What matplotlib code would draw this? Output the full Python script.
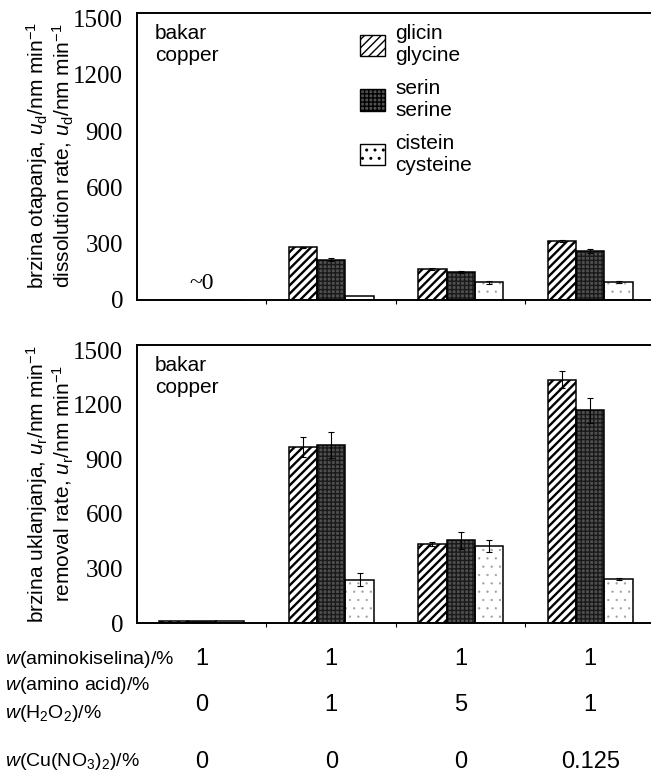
# Gráfica de barras: velocidad de disolución y de remoción del cobre
import matplotlib
matplotlib.use('Agg')
import matplotlib.pyplot as plt
import matplotlib.transforms as mtransforms
from matplotlib.patches import Patch
import numpy as np

# Datos
grupos = [1, 2, 3, 4]

# Panel superior: brzina otapanja (dissolution rate)
otapanje_glicin = [0, 280, 165, 315]
otapanje_serin = [0, 215, 150, 260]
otapanje_cistein = [0, 20, 95, 95]
otapanje_err_glicin = [0, 5, 4, 6]
otapanje_err_serin = [0, 8, 5, 10]
otapanje_err_cistein = [0, 0, 8, 5]

# Panel inferior: brzina uklanjanja (removal rate)
uklanjanje_glicin = [12, 970, 435, 1340]
uklanjanje_serin = [10, 980, 455, 1170]
uklanjanje_cistein = [10, 238, 423, 240]
uklanjanje_err_glicin = [0, 56, 12, 45]
uklanjanje_err_serin = [0, 70, 45, 67]
uklanjanje_err_cistein = [0, 36, 33, 5]

# Tabla de condiciones debajo de la gráfica
w_aminokiselina = ['1', '1', '1', '1']
w_h2o2 = ['0', '1', '5', '1']
w_cu = ['0', '0', '0', '0.125']

nombres = ['glicin\nglycine', 'serin\nserine', 'cistein\ncysteine']

# Estilos de cada serie: (relleno, trama, color de trama, grosor de trama)
estilos = [
    ('white', '////', 'black', 1.7),
    ('#505050', '++++', '#1a1a1a', 1.0),
    ('white', '..', '#a0a0a0', 0.4),
]

plt.rcParams['font.family'] = ['Liberation Sans', 'DejaVu Sans']
plt.rcParams['mathtext.fontset'] = 'custom'
plt.rcParams['mathtext.rm'] = 'Liberation Sans'
plt.rcParams['mathtext.it'] = 'Liberation Sans:italic'

ancho = 0.22
x = np.array(grupos)


def dibujar_panel(ax, series, errores):
    """Dibuja las tres series de barras con su trama y barras de error."""
    for i, (valores, err) in enumerate(zip(series, errores)):
        relleno, trama, color_trama, grosor = estilos[i]
        pos = x + (i - 1) * ancho
        # capa con la trama
        with plt.rc_context({'hatch.linewidth': grosor}):
            ax.bar(pos, valores, width=ancho, color=relleno, hatch=trama,
                   edgecolor=color_trama, linewidth=0, zorder=2)
        # capa con el contorno negro
        ax.bar(pos, valores, width=ancho, fill=False, edgecolor='black',
               linewidth=1.1, zorder=3)
        err = np.array(err, dtype=float)
        mask = err > 0
        ax.errorbar(pos[mask], np.array(valores)[mask], yerr=err[mask], fmt='none',
                    ecolor='black', elinewidth=0.8, capsize=2, capthick=0.8, zorder=4)

    ax.set_xlim(0.5, 4.5)
    ax.set_ylim(0, 1530)
    ax.set_yticks([0, 300, 600, 900, 1200, 1500])
    ax.set_xticks([1.5, 2.5, 3.5])
    ax.set_xticklabels([])
    ax.tick_params(axis='x', length=3, width=0.8)
    ax.tick_params(axis='y', length=0, pad=10)
    for lab in ax.get_yticklabels():
        lab.set_fontfamily('Liberation Serif')
        lab.set_fontsize(18)
    for s in ax.spines.values():
        s.set_linewidth(1.4)
    ax.text(0.035, 0.96, 'bakar\ncopper', transform=ax.transAxes,
            fontsize=15, va='top', ha='left', linespacing=1.2)


fig = plt.figure(figsize=(6.51, 7.81), dpi=100)

ax1 = fig.add_axes([137 / 651, 1 - 300 / 781, 518 / 651, 287 / 781])
ax2 = fig.add_axes([137 / 651, 1 - 623 / 781, 518 / 651, 278 / 781])

dibujar_panel(ax1, [otapanje_glicin, otapanje_serin, otapanje_cistein],
              [otapanje_err_glicin, otapanje_err_serin, otapanje_err_cistein])
dibujar_panel(ax2, [uklanjanje_glicin, uklanjanje_serin, uklanjanje_cistein],
              [uklanjanje_err_glicin, uklanjanje_err_serin, uklanjanje_err_cistein])

# "~0" para el primer grupo del panel superior
ax1.text(grupos[0], 30, '~0', ha='center', va='bottom', fontsize=17,
         fontfamily='Liberation Serif')

# Leyenda
manejadores = []
for r, t, c, g in estilos:
    with plt.rc_context({'hatch.linewidth': g}):
        manejadores.append(Patch(facecolor=r, hatch=t, edgecolor='black', linewidth=1.0))
ax1.legend(manejadores, nombres, loc='upper left', bbox_to_anchor=(0.43, 0.96),
           frameon=False, fontsize=15, handlelength=1.2, handleheight=1.2,
           handletextpad=0.5, labelspacing=0.65, borderpad=0, borderaxespad=0)

# Títulos de los ejes Y
fig.text(50 / 651, 1 - 156 / 781,
         'brzina otapanja, $u_\\mathrm{d}$/nm min$^{-1}$\n'
         'dissolution rate, $u_\\mathrm{d}$/nm min$^{-1}$',
         rotation=90, ha='center', va='center', multialignment='center',
         fontsize=15, linespacing=1.05)
fig.text(50 / 651, 1 - 484 / 781,
         'brzina uklanjanja, $u_\\mathrm{r}$/nm min$^{-1}$\n'
         'removal rate, $u_\\mathrm{r}$/nm min$^{-1}$',
         rotation=90, ha='center', va='center', multialignment='center',
         fontsize=15, linespacing=1.05)

# Tabla de composiciones
trans = mtransforms.blended_transform_factory(ax2.transData, fig.transFigure)
fig.text(5 / 651, 1 - 660 / 781, '$w$(aminokiselina)/%', fontsize=14, va='center')
fig.text(5 / 651, 1 - 686 / 781, '$w$(amino acid)/%', fontsize=14, va='center')
fig.text(5 / 651, 1 - 714 / 781, '$w$(H$_2$O$_2$)/%', fontsize=14, va='center')
fig.text(5 / 651, 1 - 762 / 781, '$w$(Cu(NO$_3$)$_2$)/%', fontsize=14, va='center')
for g, a, h, c in zip(grupos, w_aminokiselina, w_h2o2, w_cu):
    ax2.text(g, 1 - 659 / 781, a, transform=trans, ha='center', va='center', fontsize=17)
    ax2.text(g, 1 - 705 / 781, h, transform=trans, ha='center', va='center', fontsize=17)
    ax2.text(g, 1 - 762 / 781, c, transform=trans, ha='center', va='center', fontsize=17)

fig.savefig('out.png', dpi=100)
